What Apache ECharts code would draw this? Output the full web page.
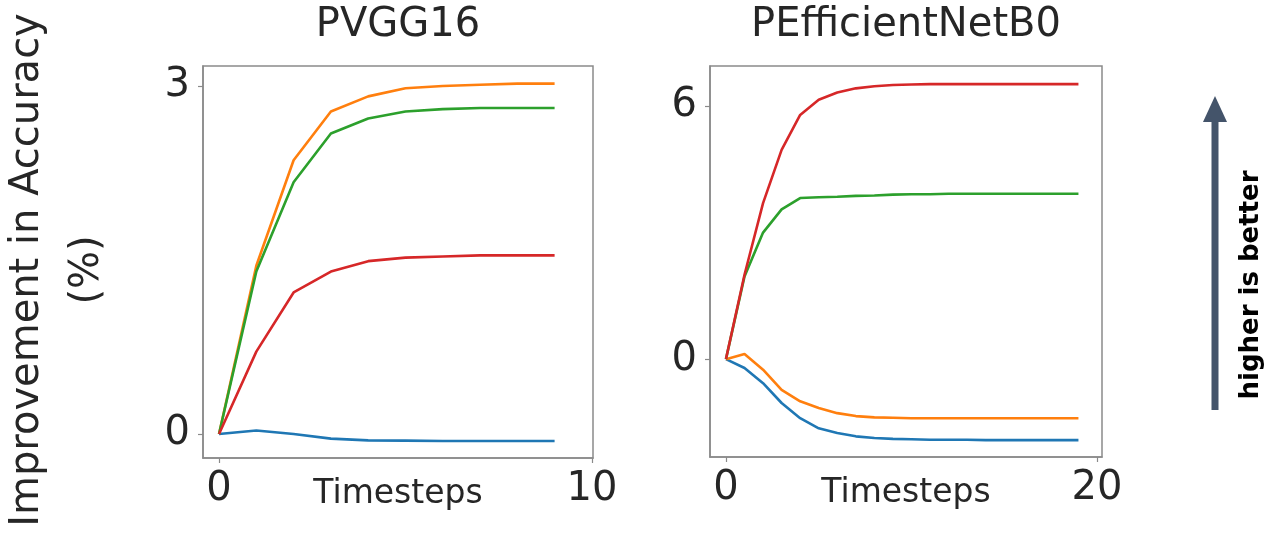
<!DOCTYPE html>
<html>
<head>
<meta charset="utf-8">
<script src="https://cdn.jsdelivr.net/npm/echarts@6/dist/echarts.min.js"></script>
<style>
html,body{margin:0;padding:0;background:#fff;}
#chart{width:1273px;height:539px;}
</style>
</head>
<body>
<div id="chart"></div>
<script>
// ---- data ----
const titles = ['PVGG16', 'PEfficientNetB0'];
const xAxisName = 'Timesteps';
const yAxisLines = ['Improvement in Accuracy', '(%)'];
const annotation = 'higher is better';

const stepsL = [0, 1, 2, 3, 4, 5, 6, 7, 8, 9];
const blueL   = [0, 0.03, 0.0, -0.04, -0.055, -0.057, -0.06, -0.06, -0.06, -0.06];
const orangeL = [0, 1.45, 2.36, 2.78, 2.91, 2.98, 3.0, 3.01, 3.02, 3.02];
const greenL  = [0, 1.40, 2.17, 2.59, 2.72, 2.78, 2.80, 2.81, 2.81, 2.81];
const redL    = [0, 0.71, 1.22, 1.40, 1.49, 1.52, 1.53, 1.54, 1.54, 1.54];
const xTicksL = [0, 10];
const yTicksL = [0, 3];

const stepsR = [0, 1, 2, 3, 4, 5, 6, 7, 8, 9, 10, 11, 12, 13, 14, 15, 16, 17, 18, 19];
const blueR   = [0, -0.21, -0.57, -1.04, -1.40, -1.64, -1.75, -1.83, -1.87, -1.89, -1.90, -1.91, -1.91, -1.91, -1.92, -1.92, -1.92, -1.92, -1.92, -1.92];
const orangeR = [0, 0.12, -0.25, -0.73, -1.00, -1.16, -1.28, -1.35, -1.38, -1.39, -1.40, -1.40, -1.40, -1.40, -1.40, -1.40, -1.40, -1.40, -1.40, -1.40];
const greenR  = [0, 1.96, 3.00, 3.55, 3.82, 3.84, 3.85, 3.87, 3.88, 3.90, 3.91, 3.91, 3.92, 3.92, 3.92, 3.92, 3.92, 3.92, 3.92, 3.92];
const redR    = [0, 2.00, 3.70, 4.96, 5.79, 6.15, 6.32, 6.42, 6.47, 6.50, 6.51, 6.52, 6.52, 6.52, 6.52, 6.52, 6.52, 6.52, 6.52, 6.52];
const xTicksR = [0, 20];
const yTicksR = [0, 6];

// ---- styles ----
const colors = ['#1f77b4', '#ff7f0e', '#2ca02c', '#d62728'];
const spine = '#8a8a8a';
const textColor = '#262626';
const FONT = 'DejaVu Sans';

function pairs(xs, ys) { return xs.map((x, i) => [x, ys[i]]); }

function xAxisCfg(gi, min, max, ticks) {
  return {
    type: 'value', gridIndex: gi, min: min, max: max,
    name: xAxisName, nameLocation: 'middle', nameGap: 20, nameMoveOverlap: false,
    nameTextStyle: { fontFamily: FONT, fontSize: 33, color: textColor },
    axisLine: { show: true, onZero: false, lineStyle: { color: spine, width: 1.5 } },
    axisTick: { show: true, customValues: ticks, length: 5, lineStyle: { color: spine, width: 1.2 } },
    axisLabel: { customValues: ticks, fontFamily: FONT, fontSize: 40, color: textColor, margin: 12 },
    splitLine: { show: false }
  };
}
function yAxisCfg(gi, min, max, ticks) {
  return {
    type: 'value', gridIndex: gi, min: min, max: max,
    axisLine: { show: true, onZero: false, lineStyle: { color: spine, width: 1.5 } },
    axisTick: { show: true, customValues: ticks, length: 5, lineStyle: { color: spine, width: 1.2 } },
    axisLabel: { customValues: ticks, fontFamily: FONT, fontSize: 40, color: textColor, margin: 13 },
    splitLine: { show: false }
  };
}
function lineSeries(gi, xs, ys, color) {
  return {
    type: 'line', xAxisIndex: gi, yAxisIndex: gi,
    data: pairs(xs, ys), showSymbol: false, symbol: 'none',
    lineStyle: { color: color, width: 2.6 }, smooth: false, animation: false, z: 3
  };
}

const chart = echarts.init(document.getElementById('chart'), null, { renderer: 'canvas' });
chart.setOption({
  backgroundColor: '#ffffff',
  animation: false,
  grid: [
    { left: 203, top: 66, width: 390, height: 392, show: true, borderColor: spine, borderWidth: 1.5, backgroundColor: 'transparent', containLabel: false, outerBoundsMode: 'none' },
    { left: 710, top: 66, width: 392, height: 391, show: true, borderColor: spine, borderWidth: 1.5, backgroundColor: 'transparent', containLabel: false, outerBoundsMode: 'none' }
  ],
  xAxis: [
    xAxisCfg(0, -0.43, 10.03, xTicksL),
    xAxisCfg(1, -0.86, 20.27, xTicksR)
  ],
  yAxis: [
    yAxisCfg(0, -0.207, 3.172, yTicksL),
    yAxisCfg(1, -2.32, 6.95, yTicksR)
  ],
  series: [
    lineSeries(0, stepsL, blueL, colors[0]),
    lineSeries(0, stepsL, orangeL, colors[1]),
    lineSeries(0, stepsL, greenL, colors[2]),
    lineSeries(0, stepsL, redL, colors[3]),
    lineSeries(1, stepsR, blueR, colors[0]),
    lineSeries(1, stepsR, orangeR, colors[1]),
    lineSeries(1, stepsR, greenR, colors[2]),
    lineSeries(1, stepsR, redR, colors[3])
  ],
  graphic: [
    { type: 'text', x: 398, y: 26, style: { text: titles[0], font: '40px "DejaVu Sans"', fill: textColor, align: 'center', verticalAlign: 'middle' } },
    { type: 'text', x: 906, y: 26, style: { text: titles[1], font: '40px "DejaVu Sans"', fill: textColor, align: 'center', verticalAlign: 'middle' } },
    { type: 'text', x: 28, y: 270, rotation: Math.PI / 2, style: { text: yAxisLines[0], font: '40px "DejaVu Sans"', fill: textColor, align: 'center', verticalAlign: 'middle' } },
    { type: 'text', x: 88, y: 270, rotation: Math.PI / 2, style: { text: yAxisLines[1], font: '40px "DejaVu Sans"', fill: textColor, align: 'center', verticalAlign: 'middle' } },
    { type: 'line', shape: { x1: 1215, y1: 410, x2: 1215, y2: 118 }, style: { stroke: '#44546a', lineWidth: 7 } },
    { type: 'polygon', shape: { points: [[1203, 122], [1227, 122], [1215, 96]] }, style: { fill: '#44546a' } },
    { type: 'text', x: 1251, y: 285, rotation: Math.PI / 2, style: { text: annotation, font: 'bold 26px "DejaVu Sans"', fill: '#000000', align: 'center', verticalAlign: 'middle' } }
  ]
});
</script>
</body>
</html>
